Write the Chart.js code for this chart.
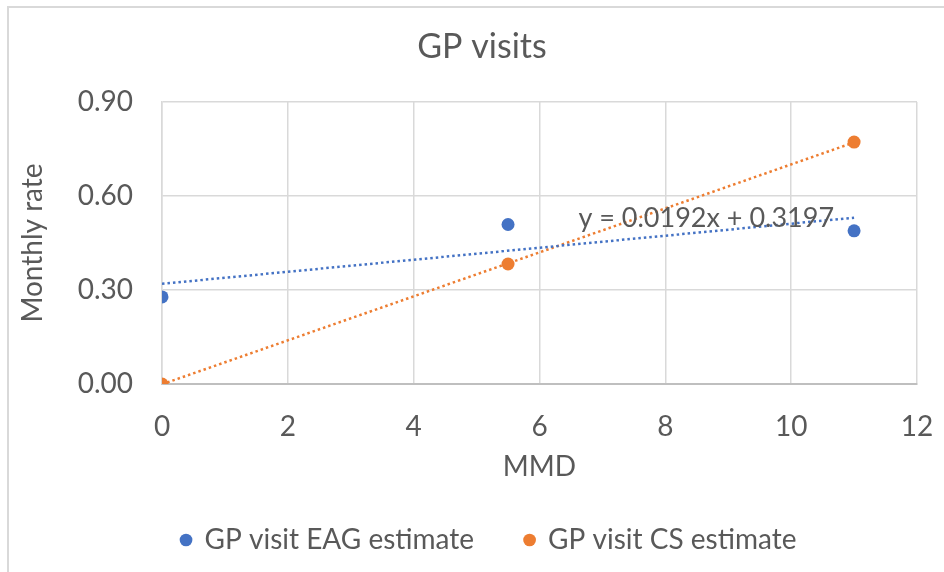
<!DOCTYPE html>
<html><head><meta charset="utf-8">
<script src="https://cdn.jsdelivr.net/npm/chart.js@4"></script>
<style>
html,body{margin:0;padding:0;background:#fff;overflow:hidden;width:944px;height:572px}
#frame{position:absolute;left:7px;top:6px;width:948px;height:570px;border-left:2px solid #d9d9d9;border-top:2px solid #d9d9d9}
#c{position:absolute;left:9px;top:8px}
</style></head><body>
<div id="frame"></div>
<canvas id="c" width="946" height="564"></canvas>
<script>
// ---- data ----
const mmd = [0, 5.5, 11];
const eagEstimate = [0.278, 0.509, 0.489];
const csEstimate = [0, 0.383, 0.772];
const seriesNames = ['GP visit EAG estimate', 'GP visit CS estimate'];
const xTickValues = [0, 2, 4, 6, 8, 10, 12];
const yTickValues = [0, 0.3, 0.6, 0.9];
const chartTitle = 'GP visits';
const xTitle = 'MMD';
const yTitle = 'Monthly rate';
const trendLabel = 'y = 0.0192x + 0.3197';

// ---- helpers ----
function linreg(xs, ys) {
  const n = xs.length;
  const mx = xs.reduce((a, b) => a + b, 0) / n;
  const my = ys.reduce((a, b) => a + b, 0) / n;
  let sxy = 0, sxx = 0;
  for (let i = 0; i < n; i++) { sxy += (xs[i] - mx) * (ys[i] - my); sxx += (xs[i] - mx) ** 2; }
  const m = sxy / sxx;
  return { m, b: my - m * mx };
}
function trendPoints(xs, ys) {
  const { m, b } = linreg(xs, ys);
  const x0 = Math.min(...xs), x1 = Math.max(...xs);
  return [{ x: x0, y: m * x0 + b }, { x: x1, y: m * x1 + b }];
}
const pts = (xs, ys) => xs.map((x, i) => ({ x, y: ys[i] }));

const BLUE = '#4472C4', ORANGE = '#ED7D31', TXT = '#595959';
const FONT = 'Lato, "Open Sans", sans-serif';
const LEGEND_PAD = 51;

const labelPlugin = {
  id: 'trendLabel',
  afterLayout(chart) {
    // nudge legend slightly right, as in the original
    if (chart.legend) { chart.legend.left += 7; chart.legend.right += 7; }
  },
  afterDatasetsDraw(chart) {
    const { ctx, scales } = chart;
    ctx.save();
    ctx.font = '27px ' + FONT;
    ctx.fillStyle = TXT;
    ctx.textAlign = 'center';
    ctx.textBaseline = 'middle';
    ctx.fillText(trendLabel, scales.x.getPixelForValue(8.65), scales.y.getPixelForValue(0.53));
    ctx.restore();
  }
};

new Chart(document.getElementById('c'), {
  type: 'scatter',
  data: {
    datasets: [
      { label: seriesNames[0], data: pts(mmd, eagEstimate), backgroundColor: BLUE, borderColor: BLUE,
        pointRadius: 6.5, pointHoverRadius: 6.5, borderWidth: 0, pointStyle: 'circle', order: 1 },
      { label: seriesNames[1], data: pts(mmd, csEstimate), backgroundColor: ORANGE, borderColor: ORANGE,
        pointRadius: 6.5, pointHoverRadius: 6.5, borderWidth: 0, pointStyle: 'circle', order: 1 },
      { type: 'line', label: 'trend EAG', data: trendPoints(mmd, eagEstimate), borderColor: BLUE,
        borderWidth: 2.5, borderDash: [2.5, 3], pointRadius: 0, fill: false, order: 2 },
      { type: 'line', label: 'trend CS', data: trendPoints(mmd, csEstimate), borderColor: ORANGE,
        borderWidth: 2.5, borderDash: [2.5, 3], pointRadius: 0, fill: false, order: 2 }
    ]
  },
  options: {
    responsive: false,
    devicePixelRatio: 1,
    animation: false,
    layout: { padding: { left: 0, right: 0, top: 0, bottom: 8 } },
    plugins: {
      title: { display: true, text: chartTitle, color: TXT,
        font: { family: FONT, size: 34, weight: 'normal' }, padding: { top: 18.6, bottom: 34.6 } },
      legend: { position: 'bottom',
        labels: { usePointStyle: true, pointStyle: 'circle', boxWidth: 9, boxHeight: 9, padding: LEGEND_PAD,
          color: TXT, font: { family: FONT, size: 28 },
          filter: item => item.datasetIndex < 2 } },
      tooltip: { enabled: false }
    },
    scales: {
      x: {
        type: 'linear', min: 0, max: 12,
        afterBuildTicks: s => { s.ticks = xTickValues.map(v => ({ value: v })); },
        afterFit: s => { s.height = 142 - LEGEND_PAD; s.paddingRight = 0; s.paddingLeft = 0; },
        ticks: { color: TXT, font: { family: FONT, size: 28 }, padding: 26, maxRotation: 0 },
        grid: { color: '#d9d9d9', lineWidth: 1.5, drawTicks: false },
        border: { color: '#bfbfbf', width: 2 },
        title: { display: true, text: xTitle, color: TXT, font: { family: FONT, size: 28 },
          padding: { top: 0, bottom: 42.2 - LEGEND_PAD } }
      },
      y: {
        min: 0, max: 0.9,
        afterBuildTicks: s => { s.ticks = yTickValues.map(v => ({ value: v })); },
        afterFit: s => { s.width = 153; },
        ticks: { color: TXT, font: { family: FONT, size: 28 }, padding: 29, callback: v => v.toFixed(2) },
        grid: { color: '#d9d9d9', lineWidth: 1.5, drawTicks: false },
        border: { color: '#d9d9d9', width: 1.5 },
        title: { display: true, text: yTitle, color: TXT, font: { family: FONT, size: 28 }, padding: { top: 7, bottom: 0 } }
      },
      yRight: {
        position: 'right', min: 0, max: 0.9,
        afterFit: s => { s.width = 38; },
        ticks: { display: false },
        grid: { display: false, drawTicks: false },
        border: { display: false },
        title: { display: false }
      }
    }
  },
  plugins: [labelPlugin]
});
</script>
</body></html>
